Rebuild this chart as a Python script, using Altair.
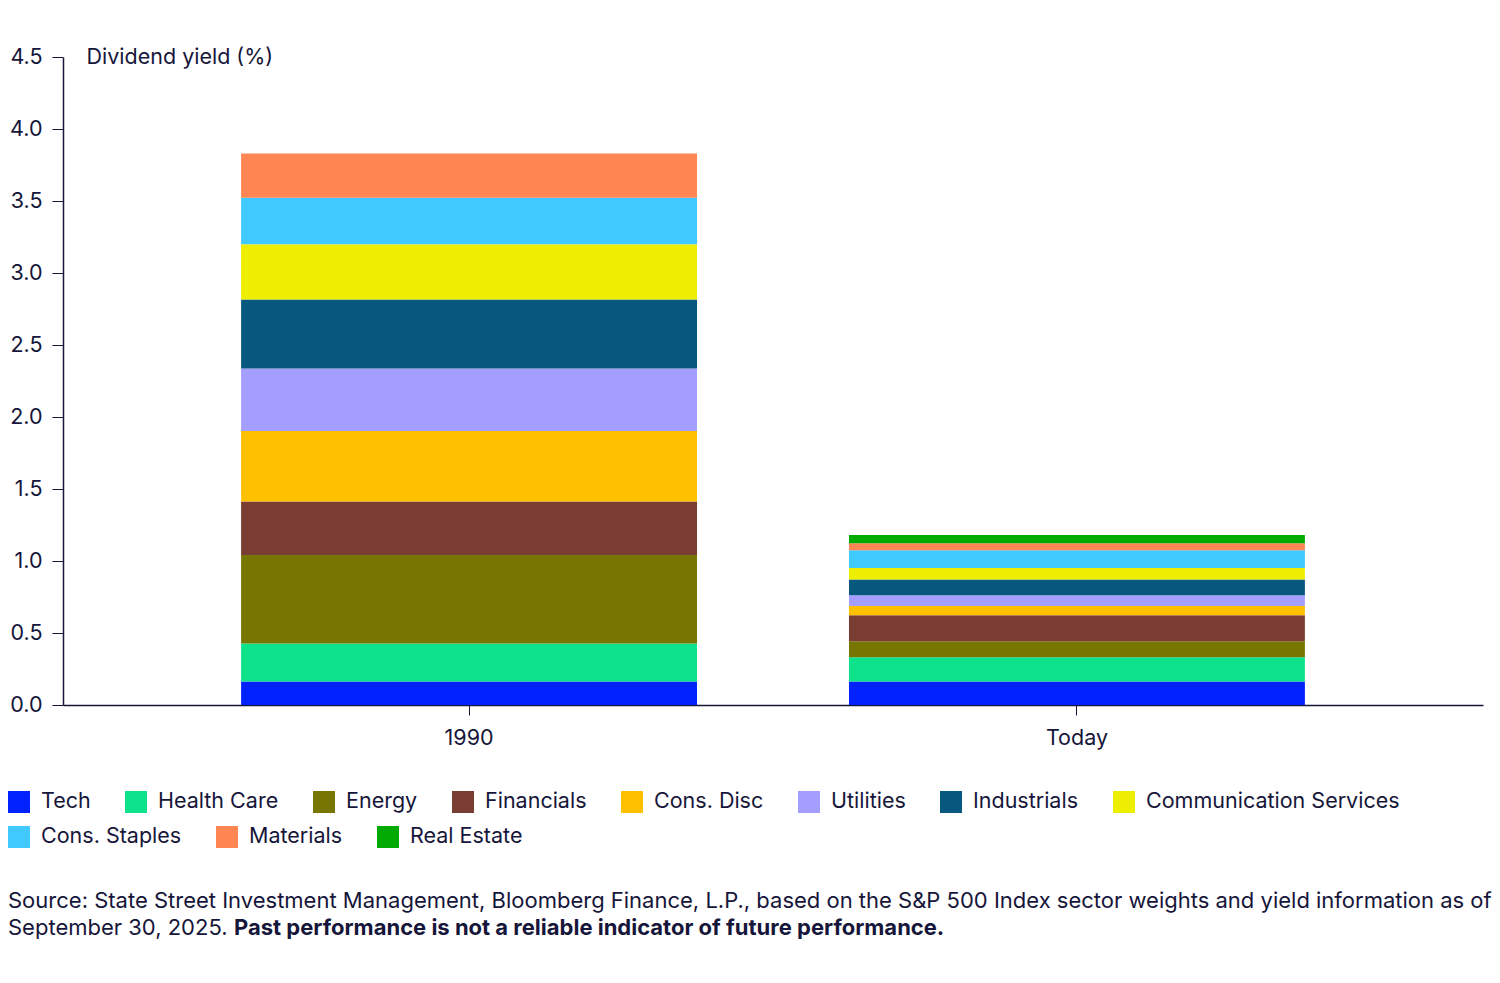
import altair as alt
import pandas as pd

sectors = ["Tech", "Health Care", "Energy", "Financials", "Cons. Disc", "Utilities",
           "Industrials", "Communication Services", "Cons. Staples", "Materials", "Real Estate"]
colors = ["#0022ff", "#0ee38b", "#767600", "#7a3d33", "#ffc000", "#a39eff",
          "#07587f", "#eeee00", "#3fc9ff", "#ff8552", "#00aa00"]
periods = ["1990", "Today"]
yield_1990 = [0.163, 0.264, 0.614, 0.373, 0.489, 0.433, 0.480, 0.384, 0.322, 0.308, 0.0]
yield_today = [0.163, 0.169, 0.111, 0.181, 0.063, 0.076, 0.109, 0.079, 0.123, 0.050, 0.056]
y_ticks = [0.0, 0.5, 1.0, 1.5, 2.0, 2.5, 3.0, 3.5, 4.0, 4.5]

source_line1 = ("Source: State Street Investment Management, Bloomberg Finance, L.P., based on the "
                "S&P 500 Index sector weights and yield information as of")
source_line2a = "September 30, 2025."
source_line2b = "Past performance is not a reliable indicator of future performance."

rows = []
for i, s in enumerate(sectors):
    rows.append({"period": periods[0], "sector": s, "value": yield_1990[i], "idx": i})
    rows.append({"period": periods[1], "sector": s, "value": yield_today[i], "idx": i})
df = pd.DataFrame(rows)

NAVY = "#16163a"
FONT = "Inter"
FS = 21.5
FS_SRC = 22
H = 648
W = 1420
N1 = 8  # entries in first legend row

x_enc = alt.X("period:N", sort=periods,
              scale=alt.Scale(paddingInner=0.25, paddingOuter=0.293),
              axis=alt.Axis(title=None, labelAngle=0, labelFontSize=FS, labelPadding=12,
                            tickSize=10, tickColor=NAVY, domainColor=NAVY, domainWidth=1.5,
                            labelColor=NAVY, labelFont=FONT))
y_enc = alt.Y("y0:Q",
              scale=alt.Scale(domain=[0, 4.5], nice=False),
              axis=alt.Axis(values=y_ticks, format=".1f", title="Dividend yield (%)",
                            titleAngle=0, titleAlign="left", titleBaseline="middle",
                            titleX=23, titleY=0, titleFontWeight="normal", titleFontSize=FS,
                            titleColor=NAVY, titleFont=FONT, grid=False, tickSize=11,
                            labelPadding=10, labelFontSize=FS, labelColor=NAVY, labelFont=FONT,
                            tickColor=NAVY, domainColor=NAVY, domainWidth=1.5))


def legend(y):
    return alt.Legend(title=None, orient="none", legendX=-55, legendY=y,
                      direction="horizontal", columns=8,
                      symbolType="square", symbolSize=484, symbolStrokeWidth=0,
                      symbolOpacity=1, labelFontSize=FS, labelOffset=11,
                      labelColor=NAVY, labelFont=FONT, columnPadding=34, labelLimit=400)


base = alt.Chart(df).transform_window(
    y1="sum(value)", frame=[None, 0], sort=[alt.SortField("idx")], groupby=["period"]
).transform_calculate(y0="datum.y1 - datum.value")

bars_a = base.transform_filter(alt.datum.idx < N1).mark_bar().encode(
    x=x_enc, y=y_enc, y2="y1:Q",
    color=alt.Color("sector:N", scale=alt.Scale(domain=sectors[:N1], range=colors[:N1]),
                    legend=legend(734)),
)
bars_b = base.transform_filter(alt.datum.idx >= N1).mark_bar().encode(
    x=x_enc, y=y_enc, y2="y1:Q",
    color=alt.Color("sector2:N", scale=alt.Scale(domain=sectors[N1:], range=colors[N1:]),
                    legend=legend(769)),
).transform_calculate(sector2="datum.sector")

t1 = alt.Chart(pd.DataFrame({"t": [source_line1]})).mark_text(
    align="left", baseline="middle", fontSize=FS_SRC, color=NAVY, font=FONT
).encode(text="t:N", x=alt.value(-55), y=alt.value(844))

t2 = alt.Chart(pd.DataFrame({"t": [source_line2a]})).mark_text(
    align="left", baseline="middle", fontSize=FS_SRC, color=NAVY, font=FONT
).encode(text="t:N", x=alt.value(-55), y=alt.value(871))

t3 = alt.Chart(pd.DataFrame({"t": [source_line2b]})).mark_text(
    align="left", baseline="middle", fontSize=FS_SRC, color=NAVY, font=FONT, fontWeight="bold"
).encode(text="t:N", x=alt.value(171), y=alt.value(871))

chart = alt.layer(bars_a, bars_b, t1, t2, t3).resolve_scale(color="independent").properties(
    width=W, height=H, padding={"top": 38, "left": 0, "right": 0, "bottom": 0},
    background="white"
).configure_view(stroke=None)

chart.save("out.html", embed_options={"renderer": "svg", "actions": False})
